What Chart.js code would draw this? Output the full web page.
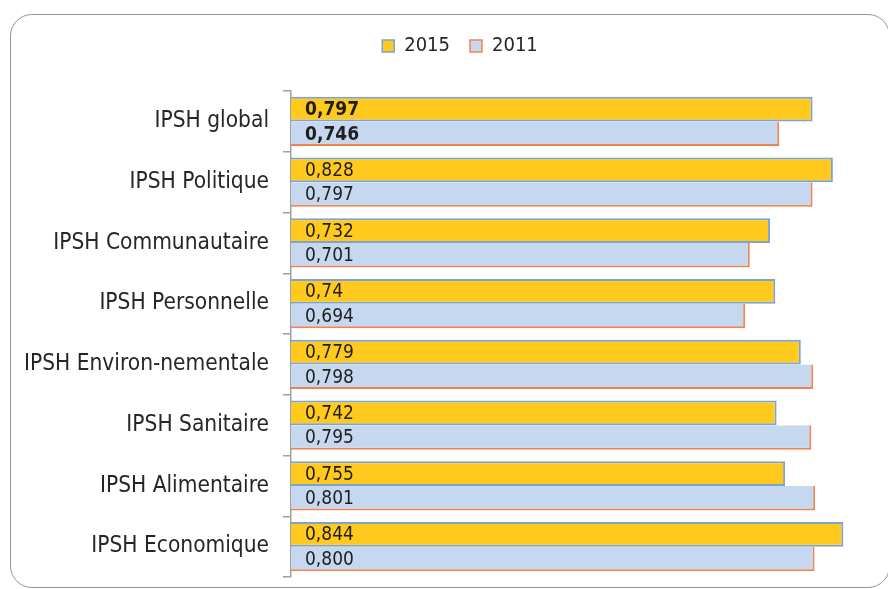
<!DOCTYPE html>
<html>
<head>
<meta charset="utf-8">
<script src="https://cdn.jsdelivr.net/npm/chart.js@4.4.1/dist/chart.umd.min.js"></script>
<style>
  html, body { margin: 0; padding: 0; background: #ffffff; }
  #wrap { position: relative; width: 888px; height: 589px; overflow: hidden; }
  #frame { position: absolute; left: 10px; top: 14px; width: 880px; height: 574px;
           border: 1.5px solid #959595; border-radius: 22px; box-sizing: border-box; }
  #c { position: absolute; left: 0; top: 0; }
</style>
</head>
<body>
<div id="wrap">
  <div id="frame"></div>
  <canvas id="c" width="888" height="589"></canvas>
</div>
<script>
const categories = ["IPSH global", "IPSH Politique", "IPSH Communautaire", "IPSH Personnelle",
                    "IPSH Environ-nementale", "IPSH Sanitaire", "IPSH Alimentaire", "IPSH Economique"];
const seriesNames = ["2015", "2011"];
const values2015 = [0.797, 0.828, 0.732, 0.74, 0.779, 0.742, 0.755, 0.844];
const values2011 = [0.746, 0.797, 0.701, 0.694, 0.798, 0.795, 0.801, 0.800];
const labels2015 = ["0,797", "0,828", "0,732", "0,74", "0,779", "0,742", "0,755", "0,844"];
const labels2011 = ["0,746", "0,797", "0,701", "0,694", "0,798", "0,795", "0,801", "0,800"];

const FONT = "'DejaVu Sans Condensed', 'DejaVu Sans', sans-serif";

const valueLabels = {
  id: 'valueLabels',
  afterDatasetsDraw(chart) {
    const ctx = chart.ctx;
    const texts = [labels2015, labels2011];
    ctx.save();
    ctx.fillStyle = '#1f1f1f';
    ctx.textAlign = 'left';
    ctx.textBaseline = 'middle';
    chart.data.datasets.forEach((ds, di) => {
      const meta = chart.getDatasetMeta(di);
      meta.data.forEach((bar, i) => {
        ctx.font = (i === 0 ? 'bold ' : '') + '19px ' + FONT;
        ctx.fillText(texts[di][i], bar.base + 14, bar.y + 1);
      });
    });
    ctx.restore();
  }
};

const legendShift = {
  id: 'legendShift',
  afterLayout(chart) {
    if (chart.legend) {
      chart.legend.left += 12;
      chart.legend.right += 12;
    }
  }
};

new Chart(document.getElementById('c'), {
  type: 'bar',
  data: {
    labels: categories,
    datasets: [
      {
        label: seriesNames[0],
        data: values2015,
        backgroundColor: '#ffc91d',
        borderColor: '#7ba3d6',
        borderWidth: {top: 2, right: 2, bottom: 2, left: 0},
        borderSkipped: false,
        categoryPercentage: 0.81,
        barPercentage: 1.0
      },
      {
        label: seriesNames[1],
        data: values2011,
        backgroundColor: '#c6d8ef',
        borderColor: '#ee8453',
        borderWidth: {top: 0, right: 2, bottom: 2, left: 0},
        borderSkipped: false,
        categoryPercentage: 0.81,
        barPercentage: 1.0
      }
    ]
  },
  options: {
    indexAxis: 'y',
    responsive: false,
    animation: false,
    layout: { padding: { top: 16, left: 16, right: 8, bottom: 12 } },
    plugins: {
      legend: {
        display: true,
        position: 'top',
        labels: {
          boxWidth: 12,
          boxHeight: 12,
          padding: 20,
          color: '#262626',
          font: { family: FONT, size: 20 },
          generateLabels(chart) {
            return chart.data.datasets.map((ds, i) => ({
              text: ds.label,
              fillStyle: ds.backgroundColor,
              strokeStyle: ds.borderColor,
              lineWidth: 1.5,
              fontColor: '#262626',
              datasetIndex: i,
              hidden: false
            }));
          }
        }
      },
      tooltip: { enabled: false }
    },
    scales: {
      x: {
        position: 'top',
        min: 0,
        max: 0.9,
        display: true,
        grid: { display: false },
        border: { display: false },
        ticks: { display: false },
        afterFit(scale) { scale.height = 25; scale.paddingLeft = 0; scale.paddingRight = 0; }
      },
      y: {
        grid: {
          display: true,
          drawOnChartArea: false,
          drawTicks: true,
          tickLength: 8,
          color: '#a0a0a0',
          lineWidth: 1.5,
          offset: true
        },
        border: { display: true, color: '#a0a0a0', width: 1.5 },
        ticks: {
          padding: 14,
          color: '#262626',
          font: { family: FONT, size: 22.5 }
        },
        afterFit(scale) { scale.width = 275; scale.paddingTop = 0; scale.paddingBottom = 0; }
      }
    }
  },
  plugins: [valueLabels, legendShift]
});
</script>
</body>
</html>
